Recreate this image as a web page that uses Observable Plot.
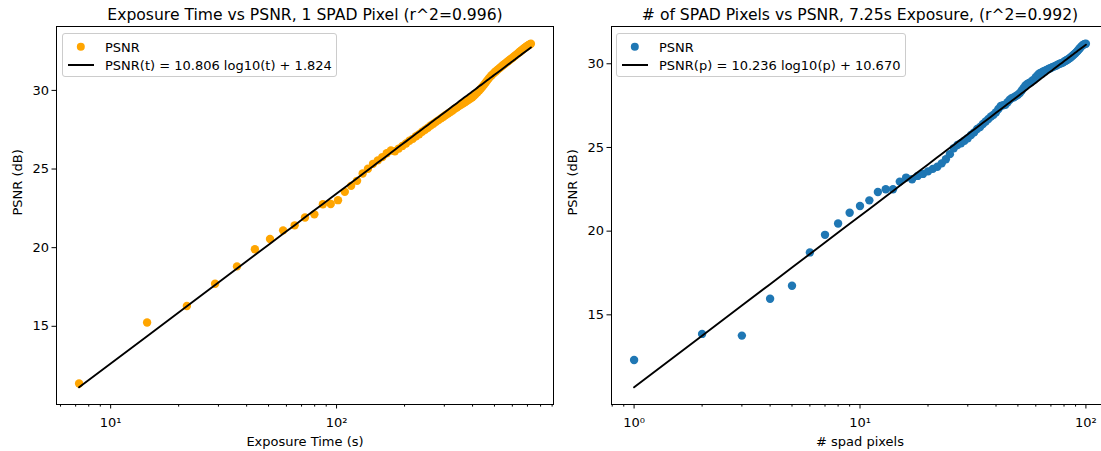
<!DOCTYPE html>
<html><head><meta charset="utf-8">
<script src="https://cdn.jsdelivr.net/npm/d3@7"></script>
<script src="https://cdn.jsdelivr.net/npm/@observablehq/plot@0.6"></script>
<style>
html,body{margin:0;padding:0;background:#fff;overflow:hidden;width:1101px;height:451px}
#wrap{position:relative;width:1101px;height:451px;overflow:hidden;font-family:"DejaVu Sans",sans-serif}
.panel{position:absolute;top:0}
.legend{position:absolute;border:1px solid #cccccc;border-radius:3px;background:rgba(255,255,255,0.8);box-sizing:border-box;font-size:13px;color:#000;font-family:"DejaVu Sans",sans-serif}
.legend .dot{position:absolute;width:8.4px;height:8.4px;border-radius:50%;transform:translate(-50%,-50%)}
.legend .ln{position:absolute;height:2px;background:#000;transform:translateY(-50%)}
.legend .tx{position:absolute;white-space:nowrap;line-height:1;transform:translateY(-50%)}
</style>
</head><body>
<div id="wrap"></div>
<script>
// ---- Data: left panel (exposure time, 1 SPAD pixel) ----
const exposureTimes = [
  7.25, 14.5, 21.75, 29, 36.25, 43.5, 50.75, 58, 65.25, 72.5,
  79.75, 87, 94.25, 101.5, 108.75, 116, 123.25, 130.5, 137.75, 145,
  152.25, 159.5, 166.75, 174, 181.25, 188.5, 195.75, 203, 210.25, 217.5,
  224.75, 232, 239.25, 246.5, 253.75, 261, 268.25, 275.5, 282.75, 290,
  297.25, 304.5, 311.75, 319, 326.25, 333.5, 340.75, 348, 355.25, 362.5,
  369.75, 377, 384.25, 391.5, 398.75, 406, 413.25, 420.5, 427.75, 435,
  442.25, 449.5, 456.75, 464, 471.25, 478.5, 485.75, 493, 500.25, 507.5,
  514.75, 522, 529.25, 536.5, 543.75, 551, 558.25, 565.5, 572.75, 580,
  587.25, 594.5, 601.75, 609, 616.25, 623.5, 630.75, 638, 645.25, 652.5,
  659.75, 667, 674.25, 681.5, 688.75, 696, 703.25, 710.5, 717.75, 725
];
const psnrByTime = [
  11.36, 15.24, 16.29, 17.71, 18.81, 19.90, 20.55, 21.10, 21.42, 21.92,
  22.12, 22.76, 22.78, 23.02, 23.55, 23.93, 24.25, 24.72, 25.02, 25.33,
  25.55, 25.76, 26.00, 26.18, 26.13, 26.30, 26.47, 26.62, 26.80, 26.92,
  27.08, 27.21, 27.37, 27.50, 27.62, 27.77, 27.88, 28.00, 28.11, 28.22,
  28.32, 28.44, 28.53, 28.63, 28.72, 28.83, 28.91, 29.00, 29.08, 29.17,
  29.25, 29.33, 29.40, 29.49, 29.57, 29.66, 29.77, 29.88, 29.99, 30.11,
  30.23, 30.36, 30.49, 30.62, 30.75, 30.86, 30.96, 31.05, 31.14, 31.22,
  31.30, 31.37, 31.44, 31.51, 31.58, 31.65, 31.71, 31.78, 31.84, 31.90,
  31.96, 32.02, 32.08, 32.14, 32.20, 32.26, 32.32, 32.38, 32.44, 32.49,
  32.55, 32.60, 32.66, 32.71, 32.76, 32.81, 32.85, 32.89, 32.93, 32.97
];
const fitTime = {slope: 10.806, intercept: 1.824};

// ---- Data: right panel (# SPAD pixels, 7.25 s exposure) ----
const spadPixels = [
  1, 2, 3, 4, 5, 6, 7, 8, 9, 10,
  11, 12, 13, 14, 15, 16, 17, 18, 19, 20,
  21, 22, 23, 24, 25, 26, 27, 28, 29, 30,
  31, 32, 33, 34, 35, 36, 37, 38, 39, 40,
  41, 42, 43, 44, 45, 46, 47, 48, 49, 50,
  51, 52, 53, 54, 55, 56, 57, 58, 59, 60,
  61, 62, 63, 64, 65, 66, 67, 68, 69, 70,
  71, 72, 73, 74, 75, 76, 77, 78, 79, 80,
  81, 82, 83, 84, 85, 86, 87, 88, 89, 90,
  91, 92, 93, 94, 95, 96, 97, 98, 99, 100
];
const psnrByPixels = [
  12.30, 13.86, 13.76, 15.96, 16.74, 18.73, 19.78, 20.46, 21.10, 21.50,
  21.84, 22.34, 22.50, 22.50, 22.96, 23.20, 23.10, 23.30, 23.42, 23.57,
  23.72, 23.85, 24.05, 24.30, 24.60, 24.95, 25.15, 25.25, 25.40, 25.55,
  25.75, 25.90, 26.10, 26.22, 26.40, 26.55, 26.70, 26.85, 26.95, 27.10,
  27.30, 27.48, 27.52, 27.55, 27.70, 27.85, 27.95, 28.00, 28.08, 28.15,
  28.25, 28.40, 28.55, 28.70, 28.80, 28.85, 28.90, 29.00, 29.05, 29.20,
  29.30, 29.40, 29.45, 29.50, 29.55, 29.58, 29.63, 29.68, 29.72, 29.75,
  29.80, 29.83, 29.86, 29.90, 29.95, 29.98, 30.02, 30.04, 30.07, 30.12,
  30.17, 30.21, 30.25, 30.30, 30.35, 30.40, 30.46, 30.52, 30.58, 30.64,
  30.71, 30.78, 30.86, 30.93, 31.00, 31.07, 31.12, 31.16, 31.18, 31.20
];
const fitPixels = {slope: 10.236, intercept: 10.670};

// ---- Tick labels ----
const yTicks = [15, 20, 25, 30];
const leftXMajor = [10, 100];
const rightXMajor = [1, 10, 100];
const supers = {0: "10\u2070", 1: "10\u00b9", 2: "10\u00b2"};

const titles = ["Exposure Time vs PSNR, 1 SPAD Pixel (r^2=0.996)", "# of SPAD Pixels vs PSNR, 7.25s Exposure, (r^2=0.992)"];
const xLabels = ["Exposure Time (s)", "# spad pixels"];
const yLabel = "PSNR (dB)";
const legendLabels = ["PSNR", "PSNR(t) = 10.806 log10(t) + 1.824", "PSNR(p) = 10.236 log10(p) + 10.670"];
const colors = ["#ffa500", "#1f77b4"];

function panel({xs, ys, fit, color, title, xlabel, majors}) {
  const pts = xs.map((x, i) => ({x, y: ys[i]}));
  const fitLine = xs.map(x => ({x, y: fit.slope * Math.log10(x) + fit.intercept}));
  const [x0, x1] = d3.extent(xs);
  const pad = 0.05 * Math.log10(x1 / x0);
  const xDomain = [x0 / 10 ** pad, x1 * 10 ** pad];
  const [y0, y1] = d3.extent([...ys, ...fitLine.map(d => d.y)]);
  const yDomain = [y0 - 0.05 * (y1 - y0), y1 + 0.05 * (y1 - y0)];
  const minors = [];
  for (const dec of [0.1, 1, 10, 100, 1000]) for (let m = 2; m <= 9; m++) {
    const v = m * dec;
    if (v >= xDomain[0] && v <= xDomain[1]) minors.push(v);
  }
  return Plot.plot({
    width: 580, height: 451,
    marginLeft: 56, marginRight: 27, marginTop: 26, marginBottom: 47,
    x: {type: "log", domain: xDomain},
    y: {domain: yDomain},
    style: {fontFamily: "DejaVu Sans, sans-serif", fontSize: "13px", color: "black", background: "transparent", overflow: "visible"},
    marks: [
      Plot.dot(pts, {x: "x", y: "y", r: 4.2, fill: color, stroke: "none"}),
      Plot.line(fitLine, {x: "x", y: "y", stroke: "black", strokeWidth: 1.9}),
      Plot.frame({stroke: "black", strokeWidth: 1}),
      Plot.axisX({ticks: majors, tickFormat: d => supers[Math.round(Math.log10(d))], tickSize: 4.5, tickPadding: 9, fontSize: 13, label: null}),
      Plot.axisX({ticks: minors, tickFormat: () => "", tickSize: 2.6, label: null}),
      Plot.axisY({ticks: yTicks, tickSize: 4.5, tickPadding: 3, fontSize: 13, label: null}),
      Plot.text([title], {text: d => d, frameAnchor: "top", dy: -12, fontSize: 15.6, lineAnchor: "middle"}),
      Plot.text([xlabel], {text: d => d, frameAnchor: "bottom", dy: 37.5, fontSize: 13, lineAnchor: "middle"}),
      Plot.text([yLabel], {text: d => d, frameAnchor: "left", dx: -39, rotate: -90, fontSize: 13, lineAnchor: "middle"})
    ]
  });
}

const wrap = document.getElementById("wrap");
const specs = [
  {xs: exposureTimes, ys: psnrByTime, fit: fitTime, color: colors[0], title: titles[0], xlabel: xLabels[0], majors: leftXMajor, left: 0,
   legend: {left: 62, top: 33, width: 275, label: legendLabels[1]}},
  {xs: spadPixels, ys: psnrByPixels, fit: fitPixels, color: colors[1], title: titles[1], xlabel: xLabels[1], majors: rightXMajor, left: 555,
   legend: {left: 616, top: 33, width: 290, label: legendLabels[2]}}
];
for (const s of specs) {
  const chart = panel(s);
  chart.classList.add("panel");
  chart.style.left = s.left + "px";
  wrap.appendChild(chart);
  const lg = document.createElement("div");
  lg.className = "legend";
  lg.style.left = s.legend.left + "px";
  lg.style.top = s.legend.top + "px";
  lg.style.width = s.legend.width + "px";
  lg.style.height = "44px";
  lg.innerHTML = `<span class="dot" style="left:17.5px;top:12.5px;background:${s.color}"></span>
    <span class="tx" style="left:42px;top:12.5px">${legendLabels[0]}</span>
    <span class="ln" style="left:5px;top:31px;width:26px"></span>
    <span class="tx" style="left:42px;top:31px">${s.legend.label}</span>`;
  wrap.appendChild(lg);
}
</script>
</body></html>
